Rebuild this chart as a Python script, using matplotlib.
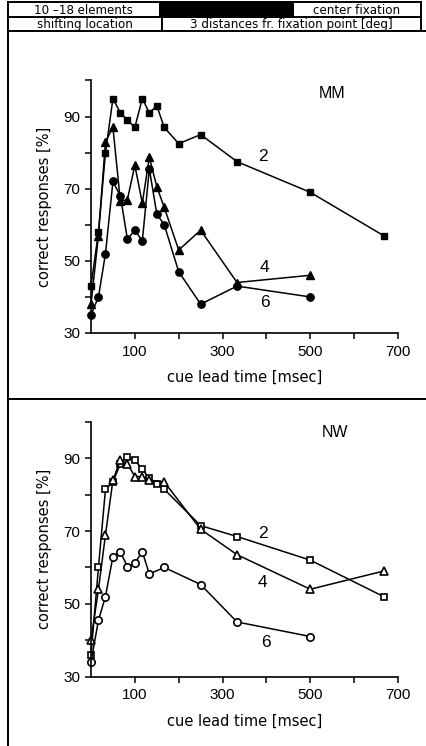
import numpy as np
import matplotlib.pyplot as plt
from matplotlib.patches import Rectangle
from matplotlib.ticker import FixedLocator

plt.rcParams['font.family'] = ['Liberation Sans', 'DejaVu Sans']
wide = ['DejaVu Sans']

# cue lead times [msec] and correct responses [%]
t_mm2 = [0, 17, 33, 50, 67, 83, 100, 117, 133, 150, 167, 200, 250, 333, 500, 667]
mm2 = [43, 58, 80, 95, 91, 89, 87, 95, 91, 93, 87, 82.5, 85, 77.5, 69, 57]
t_mm46 = [0, 17, 33, 50, 67, 83, 100, 117, 133, 150, 167, 200, 250, 333, 500]
mm4 = [38, 57, 83, 87, 66.5, 67, 76.5, 66, 78.7, 70.6, 64.8, 53, 58.5, 44, 46]
mm6 = [35, 40, 52, 72, 68, 56, 58.5, 55.5, 75.5, 63, 60, 47, 38, 43, 40]

t_nw2 = [0, 17, 33, 50, 67, 83, 100, 117, 133, 150, 167, 250, 333, 500, 667]
nw2 = [36, 60, 81.5, 83.5, 88.5, 90.5, 89.5, 87, 84.5, 83, 81.5, 71.5, 68.5, 62, 52]
t_nw4 = [0, 17, 33, 50, 67, 83, 100, 117, 133, 167, 250, 333, 500, 667]
nw4 = [40, 54, 69, 84, 89.5, 88.5, 85, 85, 84, 83.5, 70.5, 63.5, 54, 59]
t_nw6 = [0, 17, 33, 50, 67, 83, 100, 117, 133, 167, 250, 333, 500]
nw6 = [34, 45.5, 52, 63, 64.3, 60.2, 61.2, 64.3, 58.2, 60, 55.3, 45, 41]

W, H = 426, 746
fig = plt.figure(figsize=(W / 100, H / 100), dpi=100)

# frame / header drawn in pixel coordinates
frame = fig.add_axes([0, 0, 1, 1])
frame.set_xlim(0, W)
frame.set_ylim(H, 0)
frame.axis('off')

lw = 1.4
frame.add_patch(Rectangle((160, 2), 133, 15, facecolor='black', edgecolor='black', lw=lw))
frame.plot([8, 421], [2, 2], color='black', lw=lw)
frame.plot([8, 421], [17, 17], color='black', lw=lw)
frame.plot([8, 426], [31, 31], color='black', lw=lw)
frame.plot([8, 8], [2, H], color='black', lw=lw)
frame.plot([421, 421], [2, 31], color='black', lw=lw)
frame.plot([160, 160], [2, 17], color='black', lw=lw)
frame.plot([293, 293], [2, 17], color='black', lw=lw)
frame.plot([162, 162], [17, 31], color='black', lw=lw)
frame.plot([8, 426], [399, 399], color='black', lw=lw)

hfs = 8.6
frame.text(83, 10, '10 –18 elements', ha='center', va='center', fontsize=hfs, family=wide)
frame.text(357, 10, 'center fixation', ha='center', va='center', fontsize=hfs, family=wide)
frame.text(85, 24.5, 'shifting location', ha='center', va='center', fontsize=hfs, family=wide)
frame.text(291, 24.5, '3 distances fr. fixation point [deg]', ha='center', va='center',
           fontsize=hfs, family=wide)


def style_axes(ax):
    ax.set_xlim(0, 700)
    ax.set_ylim(30, 100)
    ax.spines['top'].set_visible(False)
    ax.spines['right'].set_visible(False)
    ax.spines['left'].set_linewidth(1.2)
    ax.spines['bottom'].set_linewidth(1.2)
    ax.set_xticks([100, 300, 500, 700])
    ax.xaxis.set_minor_locator(FixedLocator([200, 400, 600]))
    ax.set_yticks([30, 50, 70, 90])
    ax.yaxis.set_minor_locator(FixedLocator([40, 60, 80, 100]))
    ax.tick_params(which='both', direction='out', length=4.5, width=1.1,
                   labelsize=11, pad=3)
    ax.tick_params(axis='x', pad=4)
    ax.set_xlabel('cue lead time [msec]', fontsize=10.5, labelpad=8, family=wide)
    ax.set_ylabel('correct responses [%]', fontsize=10.5, labelpad=8, family=wide)
    ax.patch.set_alpha(0)


ax1 = fig.add_axes([91 / W, 1 - 333 / H, 307 / W, 252.5 / H])
style_axes(ax1)
kw = dict(color='black', lw=1.1, clip_on=False)
ax1.plot(t_mm2, mm2, marker='s', ms=4.8, mfc='black', mec='black', **kw)
ax1.plot(t_mm46, mm4, marker='^', ms=6, mfc='black', mec='black', **kw)
ax1.plot(t_mm46, mm6, marker='o', ms=5.3, mfc='black', mec='black', **kw)
ax1.text(0.785, 0.95, 'MM', transform=ax1.transAxes, fontsize=11.5, ha='center', va='center')
ax1.text(0.56, 0.7, '2', transform=ax1.transAxes, fontsize=12.5, ha='center', va='center')
ax1.text(0.565, 0.26, '4', transform=ax1.transAxes, fontsize=12.5, ha='center', va='center')
ax1.text(0.565, 0.12, '6', transform=ax1.transAxes, fontsize=12.5, ha='center', va='center')

ax2 = fig.add_axes([91 / W, 1 - 676.5 / H, 307 / W, 254.5 / H])
style_axes(ax2)
ax2.plot(t_nw2, nw2, marker='s', ms=5, mfc='white', mec='black', mew=1.2, **kw)
ax2.plot(t_nw4, nw4, marker='^', ms=6.2, mfc='white', mec='black', mew=1.2, **kw)
ax2.plot(t_nw6, nw6, marker='o', ms=5.3, mfc='white', mec='black', mew=1.2, **kw)
ax2.text(0.795, 0.96, 'NW', transform=ax2.transAxes, fontsize=11.5, ha='center', va='center')
ax2.text(0.56, 0.56, '2', transform=ax2.transAxes, fontsize=12.5, ha='center', va='center')
ax2.text(0.56, 0.37, '4', transform=ax2.transAxes, fontsize=12.5, ha='center', va='center')
ax2.text(0.57, 0.135, '6', transform=ax2.transAxes, fontsize=12.5, ha='center', va='center')

fig.savefig('out.png', dpi=100)
